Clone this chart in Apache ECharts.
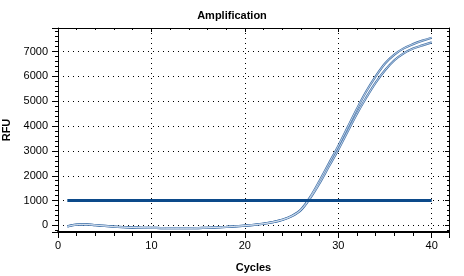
<!DOCTYPE html>
<html>
<head>
<meta charset="utf-8">
<script src="https://cdn.jsdelivr.net/npm/echarts@6/dist/echarts.min.js"></script>
<style>
html,body{margin:0;padding:0;background:#fff;}
#c{width:464px;height:276px;}
</style>
</head>
<body>
<div id="c"></div>
<script>
const cycles = [1,2,3,4,5,6,7,8,9,10,11,12,13,14,15,16,17,18,19,20,21,22,23,24,25,26,27,28,29,30,31,32,33,34,35,36,37,38,39,40];
const wellA = [-40,30,40,10,-20,-50,-70,-85,-95,-100,-105,-110,-110,-110,-105,-95,-80,-60,-35,-10,25,70,135,230,380,640,1150,1800,2500,3200,3950,4700,5400,6000,6520,6880,7130,7300,7440,7560];
const wellB = [-40,30,40,10,-20,-50,-70,-85,-95,-100,-105,-110,-110,-110,-105,-95,-80,-60,-35,-10,25,68,130,222,365,615,1100,1700,2380,3050,3780,4500,5150,5750,6250,6650,6930,7120,7250,7370];
const threshold = 1000;
const xTicks = [0,10,20,30,40];
const yTicks = [0,1000,2000,3000,4000,5000,6000,7000];

const pairs = (vals) => cycles.map((c, i) => [c, vals[i]]);
const thrData = [[cycles[0], threshold], [cycles[cycles.length - 1], threshold]];

const font = 'Liberation Sans, Arial, sans-serif';
const chart = echarts.init(document.getElementById('c'), null, {renderer: 'canvas'});

const curve = (name, vals, w, col, z) => ({
  name, type: 'line', data: pairs(vals), smooth: 0.35, showSymbol: false,
  lineStyle: {width: w, color: col}, z, animation: false, silent: true
});

chart.setOption({
  animation: false,
  title: {text: 'Amplification', left: 'center', top: 5, textStyle: {fontFamily: font, fontSize: 11, fontWeight: 'bold', color: '#000'}},
  grid: {left: 58, right: 15, top: 28, bottom: 44, containLabel: false, outerBoundsMode: 'none'},
  xAxis: [{
    type: 'value', min: 0, max: 41.85, interval: 10,
    name: 'Cycles', nameLocation: 'middle', nameGap: 30,
    nameTextStyle: {fontFamily: font, fontSize: 11, fontWeight: 'bold', color: '#000'},
    axisLine: {show: true, onZero: false, lineStyle: {color: '#000', width: 2}},
    axisTick: {show: true, inside: false, length: 6, lineStyle: {color: '#000'}},
    minorTick: {show: true, splitNumber: 5, length: 4, lineStyle: {color: '#000'}},
    axisLabel: {fontFamily: font, fontSize: 11, color: '#000', margin: 8, showMaxLabel: false,
      formatter: v => xTicks.includes(v) ? String(v) : ''},
    splitLine: {show: true, lineStyle: {color: '#000', type: [1, 4], width: 1}}
  }, {
    type: 'value', min: 0, max: 41.85, interval: 10, position: 'top',
    axisLine: {show: true, onZero: false, lineStyle: {color: '#000', width: 1}},
    axisTick: {show: true, inside: true, length: 4, lineStyle: {color: '#000'}},
    minorTick: {show: true, splitNumber: 5, length: 2, lineStyle: {color: '#000'}},
    axisLabel: {show: false}, splitLine: {show: false}
  }],
  yAxis: [{
    type: 'value', min: -265, max: 7950, splitNumber: 8,
    name: 'RFU', nameLocation: 'middle', nameGap: 40, nameRotate: 90,
    nameTextStyle: {fontFamily: font, fontSize: 11, fontWeight: 'bold', color: '#000'},
    axisLine: {show: true, onZero: false, lineStyle: {color: '#000', width: 1}},
    axisTick: {show: true, inside: false, length: 6, lineStyle: {color: '#000'}},
    minorTick: {show: true, splitNumber: 5, length: 3, lineStyle: {color: '#000'}},
    axisLabel: {fontFamily: font, fontSize: 11, color: '#000', margin: 10, showMinLabel: false, showMaxLabel: false,
      formatter: v => yTicks.includes(v) ? String(v) : ''},
    splitLine: {show: true, lineStyle: {color: '#000', type: [1, 4], width: 1}}
  }, {
    type: 'value', min: -265, max: 7950, splitNumber: 8, position: 'right',
    axisLine: {show: true, onZero: false, lineStyle: {color: '#000', width: 1}},
    axisTick: {show: true, inside: true, length: 4, lineStyle: {color: '#000'}},
    minorTick: {show: true, splitNumber: 5, length: 2, lineStyle: {color: '#000'}},
    axisLabel: {show: false}, splitLine: {show: false}
  }],
  series: [
    curve('A', wellA, 2.2, '#4675ab', 3),
    curve('A', wellA, 0.8, '#dce6f2', 4),
    curve('B', wellB, 2.2, '#4675ab', 3),
    curve('B', wellB, 0.8, '#dce6f2', 4),
    {name: 'Threshold', type: 'line', data: thrData, showSymbol: false,
      lineStyle: {width: 3, color: '#0c4a8a'}, z: 5, silent: true}
  ]
});
</script>
</body>
</html>
